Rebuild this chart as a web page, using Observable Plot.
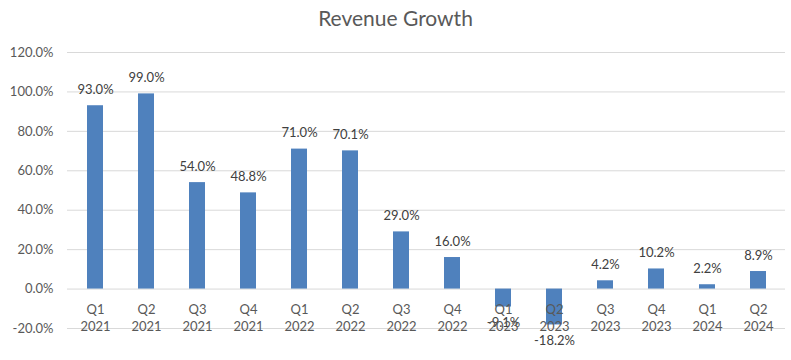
<!DOCTYPE html>
<html><head><meta charset="utf-8">
<script src="https://cdn.jsdelivr.net/npm/d3@7"></script>
<script src="https://cdn.jsdelivr.net/npm/@observablehq/plot@0.6"></script>
<style>
body{margin:0;background:#fff;font-family:Lato,"Open Sans",sans-serif;}
#title{height:36px;line-height:36px;text-align:center;font-size:21px;color:#595959;width:791px;}
</style></head><body>
<div id="title">Revenue Growth</div>
<div id="chart"></div>
<script>
const quarters = ["Q1","Q2","Q3","Q4","Q1","Q2","Q3","Q4","Q1","Q2","Q3","Q4","Q1","Q2"];
const years = ["2021","2021","2021","2021","2022","2022","2022","2022","2023","2023","2023","2023","2024","2024"];
const growth = [93.0,99.0,54.0,48.8,71.0,70.1,29.0,16.0,-9.1,-18.2,4.2,10.2,2.2,8.9];
const yTicks = [-20,0,20,40,60,80,100,120];

const data = quarters.map((q,i)=>({key:i, q, y:years[i], label:q+"\n"+years[i], v:growth[i]}));
const pos = data.filter(d=>d.v>=0), neg = data.filter(d=>d.v<0);
const chart = Plot.plot({
  width:791, height:324,
  marginTop:16, marginBottom:32, marginLeft:67, marginRight:6,
  style:{fontFamily:"Lato, 'Open Sans', sans-serif", fontSize:"13px", color:"#595959"},
  x:{type:"band", domain:data.map(d=>d.key), paddingInner:0.69, paddingOuter:0.345, axis:null},
  y:{domain:[-20,120], ticks:yTicks, tickFormat:d=>d.toFixed(1)+"%", tickSize:0, tickPadding:14, label:null, grid:false},
  marks:[
    Plot.ruleY(yTicks,{stroke:"#d9d9d9", strokeWidth:1}),
    Plot.barY(data,{x:"key", y:"v", fill:"#4f81bd"}),
    Plot.text(pos,{x:"key", y:"v", text:d=>d.v.toFixed(1)+"%", dy:-16, fill:"#404040", fontSize:13}),
    Plot.text(neg,{x:"key", y:"v", text:d=>d.v.toFixed(1)+"%", dy:16, fill:"#404040", fontSize:13}),
    Plot.text(data,{x:"key", y:()=>0, text:"label", lineAnchor:"top", dy:13, lineHeight:1.3, fill:"#595959", fontSize:13})
  ]
});
document.getElementById("chart").appendChild(chart);
</script>
</body></html>
